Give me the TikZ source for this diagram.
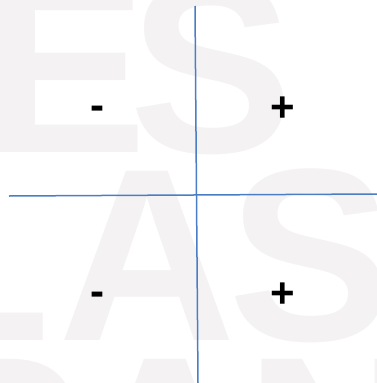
\documentclass[tikz,border=0pt]{standalone}
\usepackage{fontspec}
\setmainfont{Liberation Sans}
\usetikzlibrary{positioning}
\definecolor{axisblue}{HTML}{4A7EC4}
\definecolor{markgray}{HTML}{F4F2F3}
\tikzset{
    axis/.style={draw=axisblue, line width=1.5pt},
    sign/.style={font=\fontsize{42}{42}\selectfont\bfseries, anchor=base, inner sep=0pt},
    letter/.style={font=\fontsize{246}{246}\selectfont\bfseries, text=markgray,
                   anchor=base west, inner sep=0pt}
}

\begin{document}
\begin{tikzpicture}[x=1pt, y=-1pt]
    \useasboundingbox (0,0) rectangle (377,383);
    % watermark in the background
    \begin{scope}
        \clip (0,0) rectangle (377,383);
        \node[letter] (e1) at (-17,152) {E};
        \node[letter] (s1) at (129,152) {S};
        \node[letter] (l2) at (-100,340) {L};
        \node[letter] (a2) at (58,340) {A};
        \node[letter] (s2) at (228,340) {S};
        \node[letter] (p3) at (-83,528) {P};
        \node[letter] (a3) at (76,528) {A};
        \node[letter] (n3) at (245,528) {N};
    \end{scope}
    % axes
    \coordinate (vtop) at (195,6);
    \coordinate (vbot) at (198,383);
    \coordinate (hleft) at (9,196);
    \coordinate (hright) at (377,194);
    \draw[axis] (vtop) -- (vbot);
    \draw[axis] (hleft) -- (hright);
    % signs of the quadrants
    \node[sign] (tl) at (97,119) {-};
    \node[sign] (tr) at (283,121) {+};
    \node[sign] (bl) at (97,305) {-};
    \node[sign] (br) at (283,307) {+};
\end{tikzpicture}
\end{document}
